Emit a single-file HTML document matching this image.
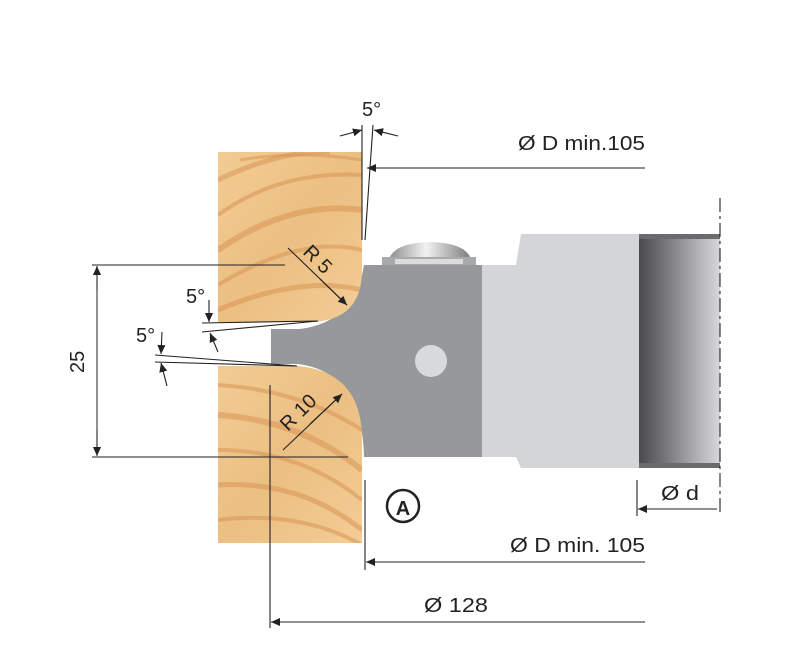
<!DOCTYPE html>
<html><head><meta charset="utf-8"><style>
html,body{margin:0;padding:0;background:#fff;}
svg{display:block;}
text{font-family:"Liberation Sans",sans-serif;fill:#222;}
</style></head><body>
<svg width="799" height="650" viewBox="0 0 799 650" xmlns="http://www.w3.org/2000/svg">
<defs>
<linearGradient id="wood" x1="0" y1="0" x2="1" y2="1">
<stop offset="0" stop-color="#f2cc94"/><stop offset="0.5" stop-color="#ecbf82"/><stop offset="1" stop-color="#f3cd96"/>
</linearGradient>
<linearGradient id="hub" x1="0" y1="0" x2="1" y2="0">
<stop offset="0" stop-color="#4a4a4c"/><stop offset="0.35" stop-color="#7a7a7c"/><stop offset="0.75" stop-color="#b4b5b7"/><stop offset="1" stop-color="#d6d7d9"/>
</linearGradient>
<linearGradient id="dome" x1="0" y1="0" x2="1" y2="0">
<stop offset="0" stop-color="#8e8f91"/><stop offset="0.45" stop-color="#f2f2f2"/><stop offset="1" stop-color="#7d7e80"/>
</linearGradient>
<marker id="ar" viewBox="0 0 10 10" refX="10" refY="5" markerWidth="14" markerHeight="9" markerUnits="userSpaceOnUse" orient="auto"><path d="M0,0.5 L10,5 L0,9.5 Z" fill="#222"/></marker>
<clipPath id="w1"><path d="M218,152 H362 V270 Q362,320 312,322 H218 Z"/></clipPath>
<clipPath id="w2"><path d="M218,366 H298 Q362,372 362,440 V543 H218 Z"/></clipPath>
</defs>

<!-- cutter -->
<path d="M482,265 H516 L521,234 H639 V468 H521 L516,457 H482 Z" fill="#d4d5d7"/>
<rect x="639" y="234" width="81" height="234" fill="url(#hub)"/>
<rect x="639" y="234" width="81" height="5" fill="#6a6b6d"/>
<rect x="639" y="463" width="81" height="5" fill="#6a6b6d"/>
<path d="M364,265 H482 V457 H364 Q362,372 298,364 H271 V329 H300 Q355,322 364,265 Z" fill="#97989a"/>
<circle cx="431" cy="361" r="16" fill="#d8d9db"/>
<path d="M390,257 Q396,243 430,242 Q464,243 470,257 Z" fill="url(#dome)"/>
<rect x="382" y="257" width="94" height="8" fill="#a9aaac"/>
<rect x="395" y="259" width="68" height="5" fill="#dcdcdc"/>

<!-- wood -->
<g clip-path="url(#w1)">
<rect x="218" y="152" width="146" height="172" fill="url(#wood)"/>
<g fill="none" stroke="#d68f50" stroke-opacity="0.5">
<path d="M218,180 Q280,150 330,152" stroke-width="5"/>
<path d="M218,215 Q280,170 362,175" stroke-width="4"/>
<path d="M218,250 Q290,200 362,210" stroke-width="6"/>
<path d="M218,285 Q300,235 362,250" stroke-width="4"/>
<path d="M218,310 Q300,275 362,290" stroke-width="5"/>
<path d="M240,160 Q300,150 362,160" stroke-width="3"/>
</g>
</g>
<g clip-path="url(#w2)">
<rect x="218" y="366" width="146" height="178" fill="url(#wood)"/>
<g fill="none" stroke="#d68f50" stroke-opacity="0.5">
<path d="M218,385 Q300,390 362,430" stroke-width="4"/>
<path d="M218,415 Q300,420 362,470" stroke-width="6"/>
<path d="M218,450 Q300,450 362,500" stroke-width="4"/>
<path d="M218,485 Q300,480 362,530" stroke-width="5"/>
<path d="M218,520 Q300,510 362,545" stroke-width="4"/>
</g>
</g>

<!-- dimension lines -->
<g stroke="#222" stroke-width="1.1" fill="none">
<line x1="362" y1="125" x2="362" y2="240"/>
<line x1="373" y1="125" x2="365" y2="240"/>
<line x1="340" y1="136" x2="362" y2="130" marker-end="url(#ar)"/>
<line x1="398" y1="136" x2="374" y2="130" marker-end="url(#ar)"/>
<line x1="645" y1="168" x2="367" y2="168" marker-end="url(#ar)"/>

<line x1="92" y1="265" x2="285" y2="265"/>
<line x1="92" y1="457" x2="348" y2="457"/>
<line x1="97" y1="268" x2="97" y2="454" stroke-width="1"/>
<line x1="97" y1="290" x2="97" y2="266" marker-end="url(#ar)"/>
<line x1="97" y1="430" x2="97" y2="456" marker-end="url(#ar)"/>

<line x1="288" y1="248" x2="347" y2="305"/>
<line x1="320" y1="279" x2="347" y2="305" marker-end="url(#ar)"/>
<line x1="283" y1="450" x2="342" y2="394"/>
<line x1="310" y1="424" x2="342" y2="394" marker-end="url(#ar)"/>

<line x1="202" y1="323" x2="318" y2="321"/>
<line x1="202" y1="332" x2="318" y2="321"/>
<line x1="209" y1="300" x2="209" y2="322" marker-end="url(#ar)"/>
<line x1="218" y1="352" x2="210" y2="333" marker-end="url(#ar)"/>
<line x1="155" y1="355" x2="297" y2="366"/>
<line x1="155" y1="362" x2="297" y2="366"/>
<line x1="162" y1="332" x2="161" y2="354" marker-end="url(#ar)"/>
<line x1="167" y1="386" x2="161" y2="363" marker-end="url(#ar)"/>

<line x1="270" y1="385" x2="270" y2="628"/>
<line x1="645" y1="622" x2="271" y2="622" marker-end="url(#ar)"/>
<line x1="365" y1="480" x2="365" y2="570"/>
<line x1="645" y1="562" x2="366" y2="562" marker-end="url(#ar)"/>
<line x1="637" y1="480" x2="637" y2="516"/>
<line x1="717" y1="509" x2="638" y2="509" marker-end="url(#ar)"/>
<line x1="720" y1="198" x2="720" y2="512" stroke-dasharray="14,4,3,4"/>
</g>
<circle cx="403" cy="506" r="16" fill="#fff" stroke="#222" stroke-width="2.5"/>
<text x="403" y="515" text-anchor="middle" font-size="20" font-weight="bold">A</text>

<g font-size="20">
<text x="362" y="116">5°</text>
<text x="518" y="150" textLength="127" lengthAdjust="spacingAndGlyphs">Ø D min.105</text>
<text x="510" y="552" textLength="135" lengthAdjust="spacingAndGlyphs">Ø D min. 105</text>
<text x="424" y="612" textLength="64" lengthAdjust="spacingAndGlyphs">Ø 128</text>
<text x="661" y="500" textLength="38" lengthAdjust="spacingAndGlyphs">Ø d</text>
<text x="186" y="303">5°</text>
<text x="136" y="342">5°</text>
<text transform="translate(84,373) rotate(-90)">25</text>
<text transform="translate(302,253) rotate(45)">R 5</text>
<text transform="translate(288,432) rotate(-45)">R 10</text>
</g>
</svg>
</body></html>
